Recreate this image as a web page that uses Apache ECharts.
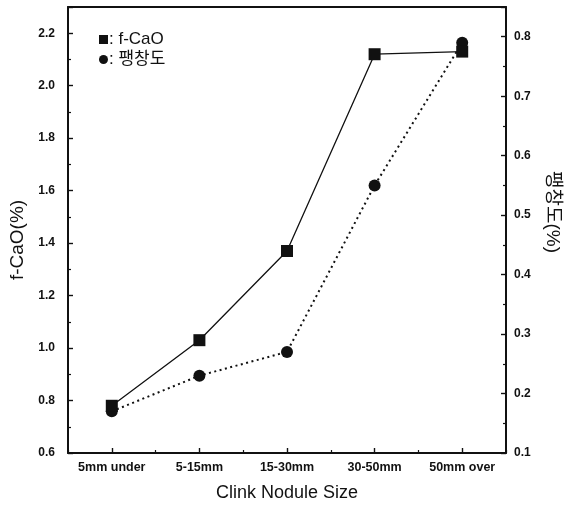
<!DOCTYPE html>
<html>
<head>
<meta charset="utf-8">
<script src="https://cdn.jsdelivr.net/npm/echarts@6/dist/echarts.min.js"></script>
<style>
  html, body { margin: 0; padding: 0; background: #fff; }
  #chart { width: 566px; height: 506px; }
</style>
</head>
<body>
<div id="chart"></div>
<script>
// Clinker nodule size classes
const categories = ['5mm under', '5-15mm', '15-30mm', '30-50mm', '50mm over'];
// free lime content, % (left axis)
const fCaO = [0.78, 1.03, 1.37, 2.12, 2.13];
// expansion, % (right axis)
const expansion = [0.17, 0.23, 0.27, 0.55, 0.79];

const leftTicks = { min: 0.6, max: 2.3, interval: 0.2 };
const rightTicks = { min: 0.1, max: 0.85, interval: 0.1 };

const FONT = '"Liberation Sans", Arial, "Noto Sans CJK KR", sans-serif';
const INK = '#111';

const chart = echarts.init(document.getElementById('chart'), null, { renderer: 'canvas' });

const yCommon = {
  type: 'value',
  axisLine: { show: true, lineStyle: { color: INK, width: 2 } },
  axisTick: { show: true, inside: true, length: 5, lineStyle: { color: INK, width: 1.4 } },
  minorTick: { show: true, splitNumber: 2, length: 3, lineStyle: { color: INK, width: 1.2 } },
  splitLine: { show: false },
  nameLocation: 'middle'
};

const tickLabel = { fontFamily: FONT, fontSize: 12, fontWeight: 'bold', color: INK };

chart.setOption({
  animation: false,
  backgroundColor: '#fff',
  grid: { left: 68, right: 60, top: 7, bottom: 53, containLabel: false, outerBoundsMode: 'none' },
  legend: {
    orient: 'vertical',
    left: 94,
    top: 26,
    itemWidth: 9,
    itemHeight: 9,
    itemGap: 3,
    data: [
      { name: 'f-CaO', icon: 'rect' },
      { name: '팽창도', icon: 'circle' }
    ],
    formatter: function (name) { return ': ' + name; },
    textStyle: { fontFamily: FONT, fontSize: 17, color: INK, padding: [0, 0, 0, -4] }
  },
  xAxis: [
    {
      type: 'category',
      data: categories,
      position: 'bottom',
      boundaryGap: true,
      axisLine: { show: true, lineStyle: { color: INK, width: 2 } },
      axisTick: { show: true, inside: true, alignWithLabel: true, length: 5, lineStyle: { color: INK, width: 1.4 } },
      axisLabel: Object.assign({}, tickLabel, { fontSize: 12.5, margin: 8, interval: 0, hideOverlap: false }),
      name: 'Clink Nodule Size',
      nameLocation: 'middle',
      nameGap: 31,
      nameTextStyle: { fontFamily: FONT, fontSize: 18, color: INK }
    },
    {
      // boundary minor ticks between size classes
      type: 'category',
      data: categories,
      position: 'bottom',
      boundaryGap: true,
      axisLine: { show: false },
      axisTick: { show: true, inside: true, alignWithLabel: false, interval: 0, length: 3, lineStyle: { color: INK, width: 1.2 } },
      axisLabel: { show: false }
    },
    {
      // top frame line
      type: 'category',
      data: categories,
      position: 'top',
      axisLine: { show: true, lineStyle: { color: INK, width: 2 } },
      axisTick: { show: false },
      axisLabel: { show: false }
    }
  ],
  yAxis: [
    Object.assign({}, yCommon, {
      position: 'left',
      min: leftTicks.min,
      max: leftTicks.max,
      interval: leftTicks.interval,
      name: 'f-CaO(%)',
      nameGap: 37,
      nameTextStyle: { fontFamily: FONT, fontSize: 19, color: INK, padding: [0, 20, 0, 0] },
      axisLabel: Object.assign({}, tickLabel, {
        margin: 13, showMaxLabel: false,
        formatter: function (v) { return v.toFixed(1); }
      })
    }),
    Object.assign({}, yCommon, {
      position: 'right',
      min: rightTicks.min,
      max: rightTicks.max,
      interval: rightTicks.interval,
      name: '팽창도(%)',
      nameGap: 37,
      nameRotate: -90,
      nameTextStyle: { fontFamily: FONT, fontSize: 19, color: INK, padding: [0, 36, 0, 0] },
      axisLabel: Object.assign({}, tickLabel, {
        margin: 8, showMaxLabel: false,
        formatter: function (v) { return v.toFixed(1); }
      })
    })
  ],
  series: [
    {
      name: '팽창도',
      type: 'line',
      xAxisIndex: 0,
      yAxisIndex: 1,
      data: expansion,
      symbol: 'circle',
      symbolSize: 12,
      itemStyle: { color: INK },
      lineStyle: { color: INK, width: 2, type: [2, 3.5] },
      z: 2
    },
    {
      name: 'f-CaO',
      type: 'line',
      xAxisIndex: 0,
      yAxisIndex: 0,
      data: fCaO,
      symbol: 'rect',
      symbolSize: 12,
      itemStyle: { color: INK },
      lineStyle: { color: INK, width: 1.3 },
      z: 3
    }
  ]
});
</script>
</body>
</html>
